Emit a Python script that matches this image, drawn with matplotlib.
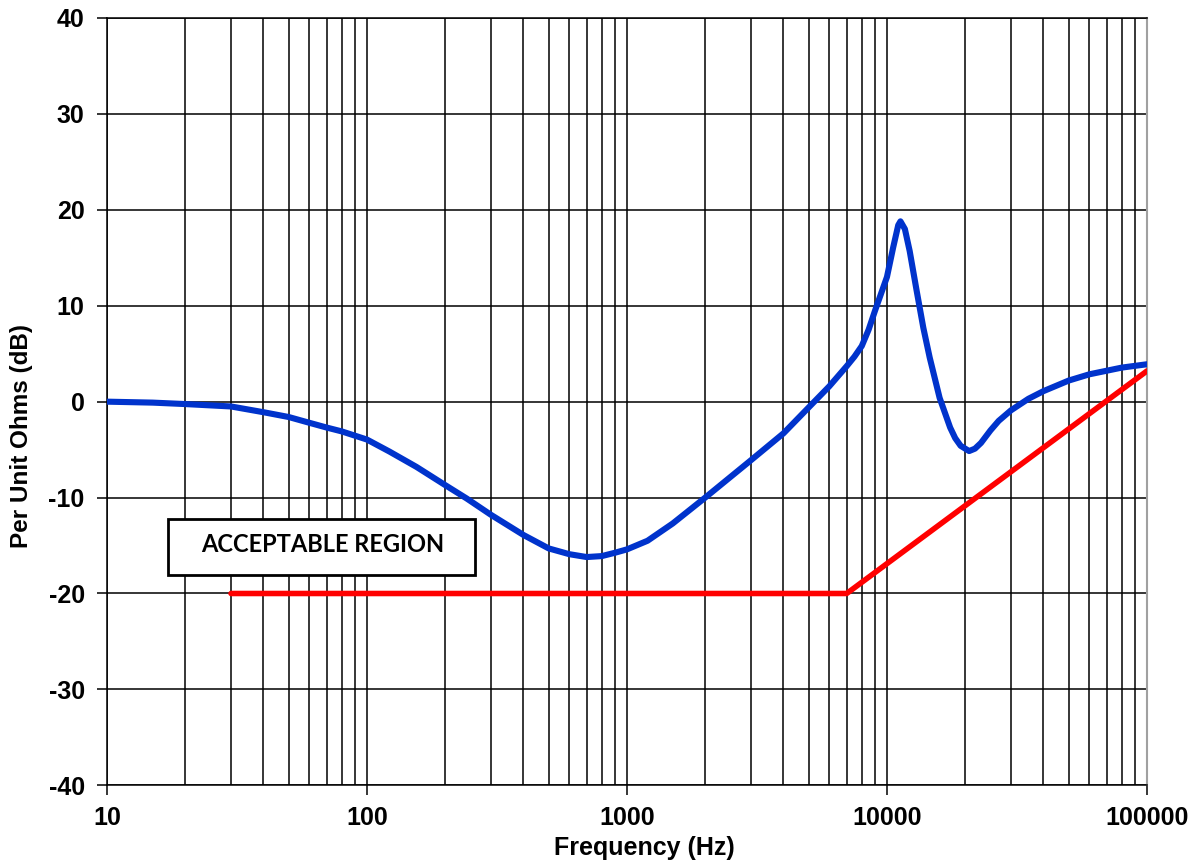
import numpy as np
import matplotlib
matplotlib.use("Agg")
import matplotlib.pyplot as plt
from matplotlib.patches import Rectangle
from matplotlib.ticker import LogLocator, NullFormatter

plt.rcParams['font.family'] = ['Liberation Sans', 'DejaVu Sans']
plt.rcParams['axes.unicode_minus'] = False

# impedance curve (Hz, dB)
freq_hz = [10, 15, 20, 30, 40, 50, 60, 70, 80, 90, 100, 122, 155, 200, 242, 300,
           400, 500, 600, 700, 800, 900, 1000, 1200, 1500, 2000, 3000, 4000, 5000,
           6000, 7000, 7500, 8000, 8500, 9000, 10000, 10570, 11050, 11270, 11720,
           12230, 13000, 13800, 14600, 15940, 17500, 18300, 19200, 20700, 21800,
           23000, 25000, 26900, 30000, 35000, 40000, 50000, 60000, 80000, 100000]
imp_db = [0.0, -0.1, -0.25, -0.5, -1.1, -1.6, -2.2, -2.7, -3.1, -3.55, -3.95, -5.2,
          -6.8, -8.7, -10.1, -11.8, -13.9, -15.3, -15.9, -16.2, -16.1, -15.75,
          -15.4, -14.5, -12.7, -10.0, -6.1, -3.3, -0.6, 1.6, 3.7, 4.7, 5.8, 7.5,
          9.5, 13.0, 16.1, 18.4, 18.8, 18.0, 15.7, 11.6, 7.7, 4.6, 0.4, -2.7, -3.8,
          -4.6, -5.15, -4.9, -4.3, -3.0, -2.0, -0.9, 0.3, 1.1, 2.2, 2.85, 3.55, 3.9]

# acceptable region limit
limit_hz = [30, 7000, 100000]
limit_db = [-20, -20, 3.2]

x_ticks = [10, 100, 1000, 10000, 100000]
x_labels = ['10', '100', '1000', '10000', '100000']
y_ticks = [-40, -30, -20, -10, 0, 10, 20, 30, 40]

fig = plt.figure(figsize=(11.99, 8.65), dpi=100)
ax = fig.add_axes([0.0892, 0.0921, 0.8674, 0.8871])

ax.plot(freq_hz, imp_db, color='#0033cc', lw=4.4, solid_capstyle='round',
        solid_joinstyle='round', zorder=4)
ax.plot(limit_hz, limit_db, color='#ff0000', lw=4.0, solid_capstyle='round', zorder=4)

ax.set_xscale('log')
ax.set_xlim(10, 100000)
ax.set_ylim(-40, 40)
ax.set_xticks(x_ticks)
ax.set_xticklabels(x_labels)
ax.xaxis.set_minor_locator(LogLocator(base=10, subs=np.arange(2, 10)))
ax.xaxis.set_minor_formatter(NullFormatter())
ax.set_yticks(y_ticks)

ax.set_axisbelow(True)
ax.grid(True, which='major', axis='both', color='black', lw=1.1)
ax.grid(True, which='minor', axis='x', color='black', lw=1.1)

ax.tick_params(axis='both', which='major', direction='out', length=7, width=1.1,
               labelsize=18, color='black')
ax.tick_params(axis='x', which='minor', length=0)
ax.tick_params(axis='y', pad=9)
ax.tick_params(axis='x', pad=8)
for lab in ax.get_xticklabels() + ax.get_yticklabels():
    lab.set_fontweight('bold')

for side in ['left', 'bottom', 'top']:
    ax.spines[side].set_color('black')
    ax.spines[side].set_linewidth(1.1)
ax.spines['right'].set_color('#a0a0a0')
ax.spines['right'].set_linewidth(1.5)

ax.set_xlabel('Frequency (Hz)', fontsize=18, fontweight='bold')
ax.set_ylabel('Per Unit Ohms (dB)', fontsize=17.5, fontweight='bold')
ax.xaxis.set_label_coords(0.517, -0.066)
ax.yaxis.set_label_coords(-0.071, 0.455)

# text box
box = Rectangle((0.0589, 0.274), 0.2949, 0.073, transform=ax.transAxes,
                facecolor='white', edgecolor='black', lw=2.0, zorder=5)
ax.add_patch(box)
ax.text(0.207, 0.314, 'ACCEPTABLE REGION', transform=ax.transAxes,
        ha='center', va='center', fontsize=17, fontweight='bold',
        family=['Lato', 'DejaVu Sans'], zorder=6)

fig.savefig('out.png', dpi=100)
